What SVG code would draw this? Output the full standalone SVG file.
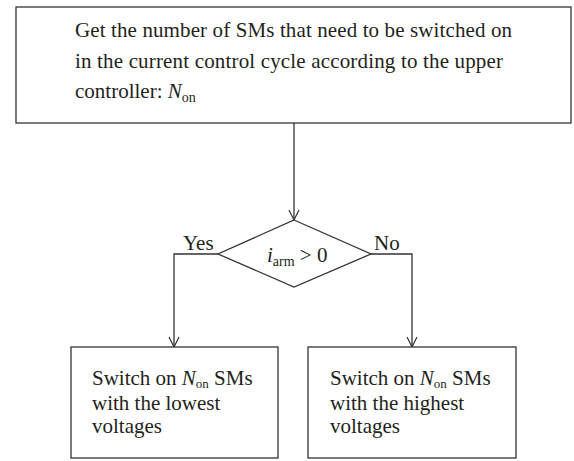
<svg xmlns="http://www.w3.org/2000/svg" width="574" height="461" viewBox="0 0 574 461">
<defs>
<marker id="arr" viewBox="0 0 12 12" refX="11" refY="6" markerWidth="12" markerHeight="12" markerUnits="userSpaceOnUse" orient="auto">
<path d="M1,1 L11,6 L1,11" fill="none" stroke="#333" stroke-width="1.2"/>
</marker>
<style>
.box{fill:#fff;stroke:#333;stroke-width:1.3}
.ln{fill:none;stroke:#333;stroke-width:1.3}
.t{font-family:"Liberation Serif",serif;font-size:21px;fill:#231f20}
.s{font-size:14px}
.s2{font-size:13px}
</style>
</defs>
<rect width="574" height="461" fill="#fff"/>
<g id="connectors">
<path class="ln" d="M294,123 V220" marker-end="url(#arr)"/>
<path class="ln" d="M218,254 H174 V347" marker-end="url(#arr)"/>
<path class="ln" d="M371,254 H412 V347" marker-end="url(#arr)"/>
<text class="t" x="183" y="250">Yes</text>
<text class="t" x="374" y="250">No</text>
</g>
<g id="start">
<rect class="box" x="16" y="7" width="555" height="116"/>
<text class="t" x="75" y="37" textLength="437" lengthAdjust="spacing">Get the number of SMs that need to be switched on</text>
<text class="t" x="75" y="68" textLength="428" lengthAdjust="spacing">in the current control cycle according to the upper</text>
<text class="t" x="75" y="98">controller: <tspan font-style="italic">N</tspan><tspan class="s" dy="4">on</tspan></text>
</g>
<g id="decision">
<path class="box" d="M294,220 L371,254 L294,287 L218,254 Z"/>
<text class="t" x="267" y="262"><tspan font-style="italic">i</tspan><tspan class="s" dy="4">arm</tspan><tspan dy="-4"> &gt; 0</tspan></text>
</g>
<g id="left">
<rect class="box" x="71" y="347" width="207" height="111"/>
<text class="t" x="92" y="385">Switch on <tspan font-style="italic">N</tspan><tspan class="s2" dy="3">on</tspan><tspan dy="-3"> SMs</tspan></text>
<text class="t" x="92" y="410">with the lowest</text>
<text class="t" x="92" y="433">voltages</text>
</g>
<g id="right">
<rect class="box" x="308" y="347" width="208" height="111"/>
<text class="t" x="330" y="385">Switch on <tspan font-style="italic">N</tspan><tspan class="s2" dy="3">on</tspan><tspan dy="-3"> SMs</tspan></text>
<text class="t" x="330" y="410">with the highest</text>
<text class="t" x="330" y="433">voltages</text>
</g>
</svg>
